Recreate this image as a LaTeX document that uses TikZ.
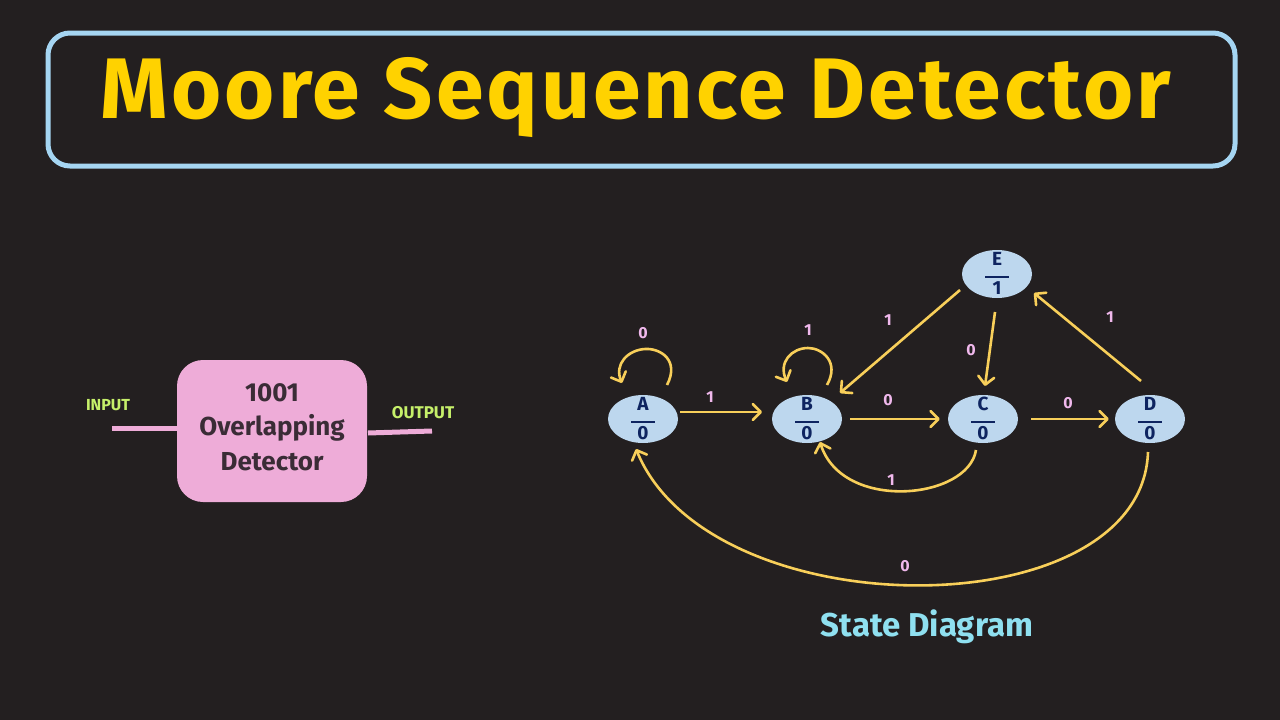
\documentclass[tikz,border=0pt]{standalone}
\usepackage{fontspec}
\setmainfont{Fira Sans}
\usetikzlibrary{shapes.geometric,arrows.meta}
\definecolor{bg}{HTML}{231F20}
\definecolor{framec}{HTML}{A5D5F2}
\definecolor{titlec}{HTML}{FFD200}
\definecolor{statec}{HTML}{BDD7EE}
\definecolor{statetxt}{HTML}{0E2460}
\definecolor{arrc}{HTML}{F8CF5A}
\definecolor{labc}{HTML}{F0B8EC}
\definecolor{blockc}{HTML}{EEACD8}
\definecolor{blocktxt}{HTML}{3A2C36}
\definecolor{greenc}{HTML}{C6F06A}
\definecolor{cyanc}{HTML}{8FE0F0}
\newcommand\stlab[2]{\makebox[0pt]{\smash{\raisebox{-6pt}{\begin{tabular}{@{}c@{}}#1\\[-4pt]\rule[3pt]{24pt}{2.4pt}\\[-7pt]#2\end{tabular}}}}}
\tikzset{
  stnode/.style={ellipse,fill=statec,minimum width=70pt,minimum height=48pt,inner sep=0pt,
    font=\fontsize{19}{20}\selectfont\bfseries,text=statetxt},
  tr/.style={draw=arrc,line width=2.6pt,-{Straight Barb[length=8pt,width=16pt,line width=2.6pt,round]}},
  lab/.style={text=labc,font=\fontsize{16}{16}\selectfont\bfseries,inner sep=0pt},
  io/.style={text=greenc,font=\fontsize{16}{16}\selectfont\bfseries,inner sep=0pt},
  wire/.style={draw=blockc,line width=5pt}
}
\begin{document}
\begin{tikzpicture}[x=1pt,y=-1pt]
\fill[bg] (0,0) rectangle (1280,720);
\useasboundingbox (0,0) rectangle (1280,720);
% title
\node[draw=framec,line width=5pt,rounded corners=22pt,minimum width=1187pt,minimum height=133pt] (frame) at (641.5,99.5) {};
\node[text=titlec,font=\fontsize{86}{86}\selectfont\bfseries\addfontfeature{LetterSpace=3.5}] (title) at (636,98) {Moore Sequence Detector};
% block
\node[fill=blockc,rounded corners=26pt,minimum width=190pt,minimum height=142pt] (blk) at (272,431) {};
\node[text=blocktxt,font=\fontsize{26}{34.5}\selectfont\bfseries,align=center] (blktxt) at (272,427) {1001\\Overlapping\\Detector};
\coordinate (inS) at (112,428);
\coordinate (inE) at (178,428);
\coordinate (outS) at (368,433);
\coordinate (outE) at (432,431);
\draw[wire] (inS) -- (inE);
\draw[wire] (outS) -- (outE);
\node[io] (inl) at (108,405) {INPUT};
\node[io,font=\fontsize{17}{17}\selectfont\bfseries] (outl) at (423,413) {OUTPUT};
% states
\node[stnode] (A) at (643,419) {\stlab{A}{0}};
\node[stnode] (B) at (807,419) {\stlab{B}{0}};
\node[stnode] (C) at (983,419) {\stlab{C}{0}};
\node[stnode] (D) at (1150,419) {\stlab{D}{0}};
\node[stnode] (E) at (997,274) {\stlab{E}{1}};
% self loops
\coordinate (a1) at (667,385); \coordinate (a2) at (622,383);
\draw[tr] (a1) .. controls (680,360) and (660,348) .. (645,349) .. controls (628,350) and (614,364) .. (a2);
\coordinate (b1) at (827,385); \coordinate (b2) at (787,382);
\draw[tr] (b1) .. controls (840,362) and (822,348) .. (808,348) .. controls (792,348) and (778,362) .. (b2);
\node[lab] (l1) at (643,333) {0};
\node[lab] (l2) at (808,330) {1};
% straight transitions
\coordinate (ab1) at (680,412);
\coordinate (ab2) at (762,412);
\draw[tr] (ab1) -- (ab2);
\node[lab] at (710,397) {1};
\draw[tr] ([xshift=8pt]B.east) -- ([xshift=-8pt]C.west);
\node[lab] at (888,400) {0};
\draw[tr] ([xshift=13pt]C.east) -- ([xshift=-6pt]D.west);
\node[lab] at (1068,403) {0};
\coordinate (eb) at (960,290);
\coordinate (bb) at (840,393);
\draw[tr] (eb) -- (bb);
\node[lab] at (888,320) {1};
\coordinate (ec) at (995,312);
\coordinate (cc) at (985,386);
\draw[tr] (ec) -- (cc);
\node[lab] at (971,350) {0};
\coordinate (dd) at (1141,381);
\coordinate (de) at (1034,293);
\draw[tr] (dd) -- (de);
\node[lab] at (1110,317) {1};
% curved back transitions
\coordinate (cb1) at (976,450);
\coordinate (cb2) at (820,442);
\draw[tr] (cb1) .. controls (968,500) and (842,512) .. (cb2);
\node[lab] at (891,480) {1};
\coordinate (da1) at (1148,452);
\coordinate (da2) at (636,449);
\draw[tr] (da1) .. controls (1142,630) and (710,630) .. (da2);
\node[lab] at (905,566) {0};
% caption
\node[text=cyanc,font=\fontsize{33}{33}\selectfont\bfseries] (cap) at (927,627) {State Diagram};
\end{tikzpicture}
\end{document}
